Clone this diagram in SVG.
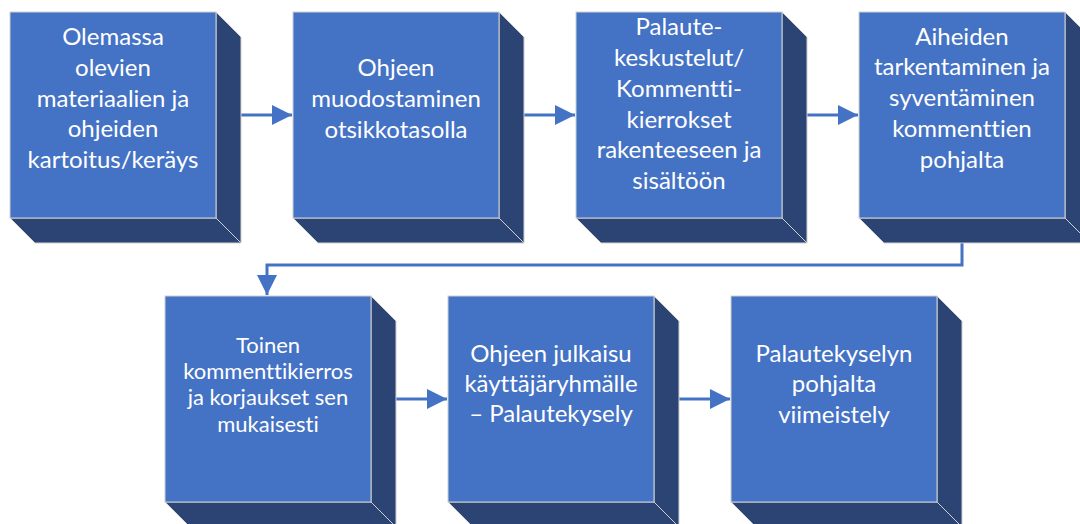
<svg xmlns="http://www.w3.org/2000/svg" width="1080" height="524" viewBox="0 0 1080 524">
<style>
.front{fill:#4472C4;stroke:#D0D0D0;stroke-width:1}
.dark{fill:#2C4474;stroke:#D0D0D0;stroke-width:1}
.t{font-family:Lato,"Liberation Sans",sans-serif;font-size:24px;fill:#FFFFFF;text-anchor:middle;font-variant-ligatures:none}
.s{font-size:22px}
.c{fill:none;stroke:#4472C4;stroke-width:3}
</style>
<defs>
<marker id="ah" markerUnits="userSpaceOnUse" markerWidth="20" markerHeight="20" refX="20" refY="10" orient="auto">
<path d="M0,0 L20,10 L0,20 Z" fill="#4472C4"/>
</marker>
</defs>
<rect width="1080" height="524" fill="#FFFFFF"/>
<g id="connectors">
<path class="c" d="M241,115 H292" marker-end="url(#ah)"/>
<path class="c" d="M524,115 H575" marker-end="url(#ah)"/>
<path class="c" d="M807,115 H858" marker-end="url(#ah)"/>
<path class="c" d="M962,243 V265 H267 V295" marker-end="url(#ah)"/>
<path class="c" d="M396,399 H447" marker-end="url(#ah)"/>
<path class="c" d="M679,399 H730" marker-end="url(#ah)"/>
</g>
<g id="n1">
<polygon class="dark" points="216,12 241,37 241,243 216,218"/>
<polygon class="dark" points="10,218 216,218 241,243 35,243"/>
<rect class="front" x="10" y="12" width="206" height="206"/>
<text class="t"><tspan x="113" y="45">Olemassa</tspan><tspan x="113" y="76">olevien</tspan><tspan x="113" y="107">materiaalien ja</tspan><tspan x="113" y="137">ohjeiden</tspan><tspan x="113" y="168">kartoitus/keräys</tspan></text>
</g>
<g id="n2">
<polygon class="dark" points="499,12 524,37 524,243 499,218"/>
<polygon class="dark" points="293,218 499,218 524,243 318,243"/>
<rect class="front" x="293" y="12" width="206" height="206"/>
<text class="t"><tspan x="396" y="76">Ohjeen</tspan><tspan x="396" y="107">muodostaminen</tspan><tspan x="396" y="138">otsikkotasolla</tspan></text>
</g>
<g id="n3">
<polygon class="dark" points="782,12 807,37 807,243 782,218"/>
<polygon class="dark" points="576,218 782,218 807,243 601,243"/>
<rect class="front" x="576" y="12" width="206" height="206"/>
<text class="t"><tspan x="679" y="35">Palaute-</tspan><tspan x="679" y="66">keskustelut/</tspan><tspan x="679" y="97">Kommentti-</tspan><tspan x="679" y="128">kierrokset</tspan><tspan x="679" y="158">rakenteeseen ja</tspan><tspan x="679" y="189">sisältöön</tspan></text>
</g>
<g id="n4">
<polygon class="dark" points="1065,12 1090,37 1090,243 1065,218"/>
<polygon class="dark" points="859,218 1065,218 1090,243 884,243"/>
<rect class="front" x="859" y="12" width="206" height="206"/>
<text class="t"><tspan x="962" y="45">Aiheiden</tspan><tspan x="962" y="75">tarkentaminen ja</tspan><tspan x="962" y="106">syventäminen</tspan><tspan x="962" y="137">kommenttien</tspan><tspan x="962" y="168">pohjalta</tspan></text>
</g>
<g id="n5">
<polygon class="dark" points="371,296 396,321 396,527 371,502"/>
<polygon class="dark" points="165,502 371,502 396,527 190,527"/>
<rect class="front" x="165" y="296" width="206" height="206"/>
<text class="t s"><tspan x="268" y="353">Toinen</tspan><tspan x="268" y="379">kommenttikierros</tspan><tspan x="268" y="405">ja korjaukset sen</tspan><tspan x="268" y="432">mukaisesti</tspan></text>
</g>
<g id="n6">
<polygon class="dark" points="654,296 679,321 679,527 654,502"/>
<polygon class="dark" points="448,502 654,502 679,527 473,527"/>
<rect class="front" x="448" y="296" width="206" height="206"/>
<text class="t"><tspan x="551" y="362">Ohjeen julkaisu</tspan><tspan x="551" y="392">käyttäjäryhmälle</tspan><tspan x="551" y="422">– Palautekysely</tspan></text>
</g>
<g id="n7">
<polygon class="dark" points="937,296 962,321 962,527 937,502"/>
<polygon class="dark" points="731,502 937,502 962,527 756,527"/>
<rect class="front" x="731" y="296" width="206" height="206"/>
<text class="t"><tspan x="834" y="362">Palautekyselyn</tspan><tspan x="834" y="392">pohjalta</tspan><tspan x="834" y="423">viimeistely</tspan></text>
</g>
</svg>
